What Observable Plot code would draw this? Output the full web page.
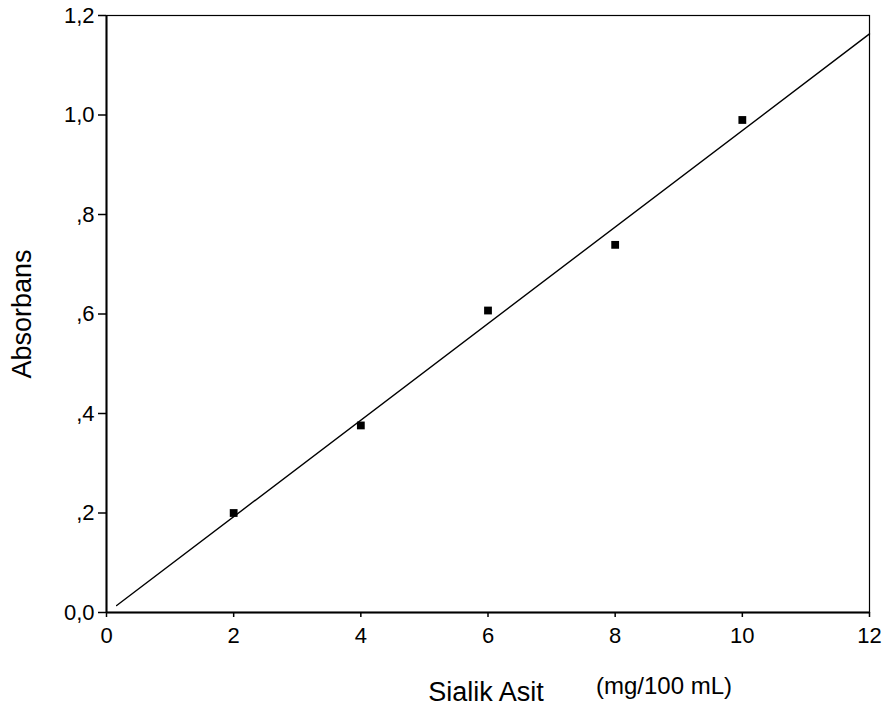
<!DOCTYPE html>
<html>
<head>
<meta charset="utf-8">
<script src="https://cdn.jsdelivr.net/npm/d3@7"></script>
<script src="https://cdn.jsdelivr.net/npm/@observablehq/plot@0.6"></script>
<style>
  html, body { margin: 0; padding: 0; background: #fff; }
  #chart svg { display: block; }
</style>
</head>
<body>
<div id="chart"></div>
<script>
// Data
const concentration = [2, 4, 6, 8, 10];
const absorbance = [0.200, 0.376, 0.607, 0.739, 0.990];

// Fitted line endpoints (as drawn)
const fitX = [0.16, 12];
const fitY = [0.014, 1.163];

const xTicks = [0, 2, 4, 6, 8, 10, 12];
const yTicks = [0, 0.2, 0.4, 0.6, 0.8, 1.0, 1.2];
const yTickLabels = ["0,0", ",2", ",4", ",6", ",8", "1,0", "1,2"];

const xLabel = "Sialik Asit";
const xUnit = "(mg/100 mL)";
const yLabel = "Absorbans";

const points = concentration.map((c, i) => ({x: c, y: absorbance[i]}));
const fit = fitX.map((x, i) => ({x, y: fitY[i]}));

const chart = Plot.plot({
  width: 883,
  height: 719,
  marginLeft: 106,
  marginRight: 14,
  marginTop: 15,
  marginBottom: 107,
  style: {fontFamily: "'Liberation Sans', Arial, sans-serif", fontSize: "22px", color: "#000", background: "#fff"},
  x: {domain: [0, 12]},
  y: {domain: [0, 1.2]},
  marks: [
    Plot.frame({stroke: "#000", strokeWidth: 1.2}),
    Plot.ruleX([0], {stroke: "#000", strokeWidth: 2}),
    Plot.ruleY([0], {stroke: "#000", strokeWidth: 2}),
    Plot.axisX({ticks: xTicks, tickSize: 5, tickPadding: 10, tickFormat: d => String(d), fontSize: 22, label: null, strokeWidth: 1.5}),
    Plot.axisY({ticks: yTicks, tickSize: 8, tickPadding: 4, tickFormat: (d, i) => yTickLabels[i], fontSize: 22, label: null, strokeWidth: 1.5}),
    Plot.line(fit, {x: "x", y: "y", stroke: "#000", strokeWidth: 1.4}),
    Plot.dot(points, {x: "x", y: "y", symbol: "square", r: 4.4, fill: "#000", stroke: "none"}),
    Plot.text([xLabel], {frameAnchor: "bottom", text: d => d, dx: -2, dy: 88, fontSize: 27, fill: "#000"}),
    Plot.text([xUnit], {frameAnchor: "bottom", text: d => d, dx: 176, dy: 81, fontSize: 24, fill: "#000"}),
    Plot.text([yLabel], {frameAnchor: "left", textAnchor: "middle", text: d => d, dx: -84, dy: 0, rotate: -90, fontSize: 27, fill: "#000"})
  ]
});
document.getElementById("chart").appendChild(chart);
</script>
</body>
</html>
